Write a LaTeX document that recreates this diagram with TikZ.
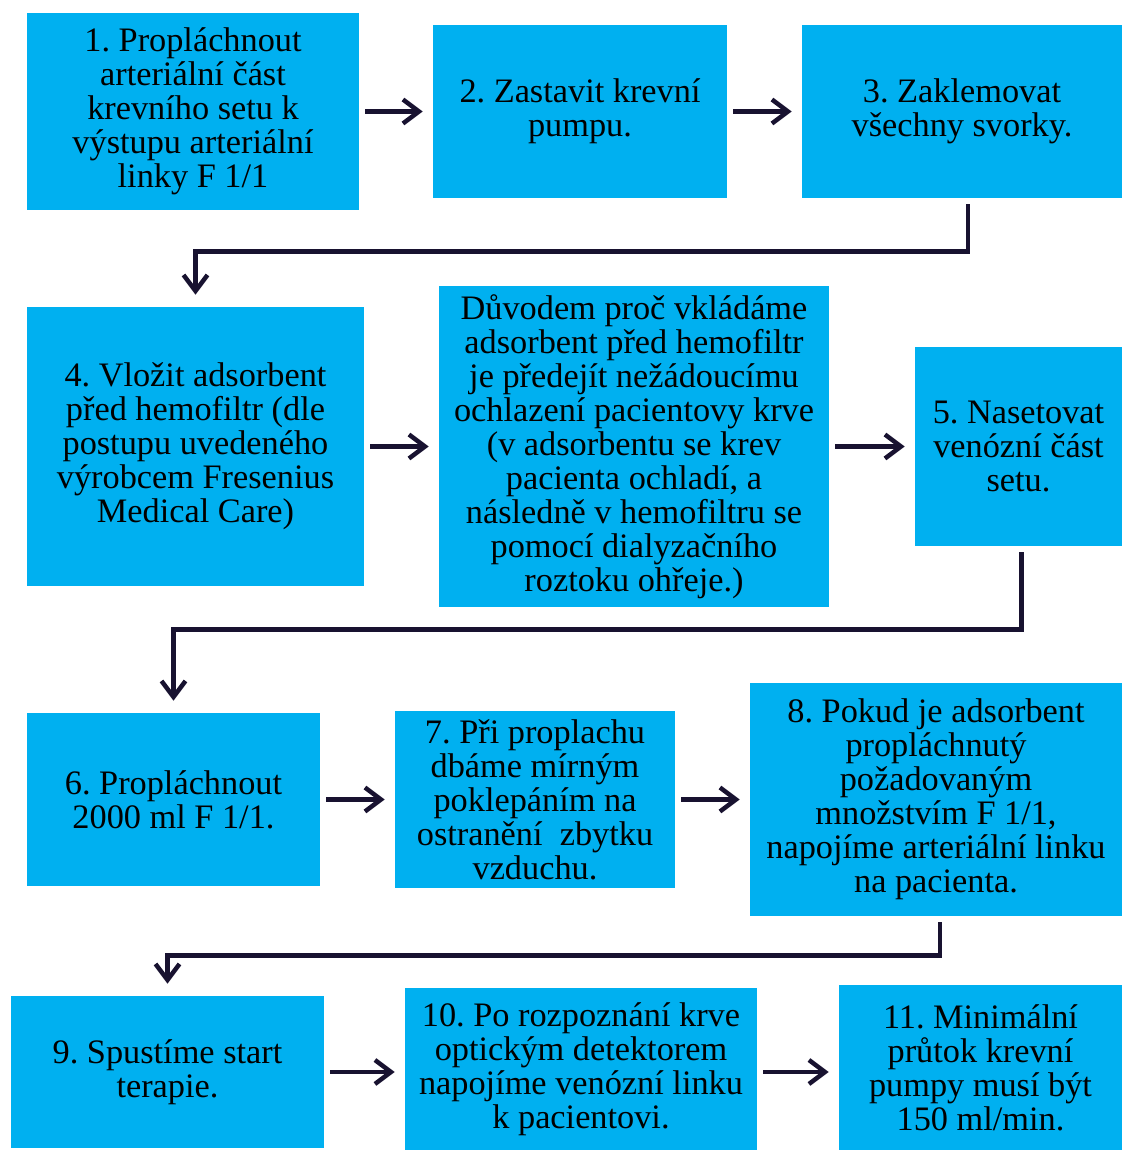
\documentclass[tikz,border=0pt]{standalone}
\usepackage{fontspec}
\setmainfont{Liberation Serif}
\usetikzlibrary{arrows.meta}
\frenchspacing
\definecolor{boxblue}{RGB}{0,176,240}
\definecolor{arrnavy}{RGB}{24,18,48}
\tikzset{
	stepbox/.style={
		fill=boxblue,
		inner sep=2pt,
		align=center,
		font=\fontsize{24.4}{24.2}\selectfont
	},
	harr/.style={arrnavy, line width=3.2pt, shorten <=1.5mm, shorten >=2.5mm,
		-{Straight Barb[length=4mm, width=6mm]}},
	elbow/.style={harr, shorten >=3mm},
}

\begin{document}
\begin{tikzpicture}
	\useasboundingbox (0,0) rectangle (28.05,-28.775);
	
	% ------------------- Row 1 -------------------
	\node[stepbox, minimum width=8.3cm, minimum height=4.925cm] (b1) at (4.825,-2.7875)
		{1. Propláchnout\\arteriální část\\krevního setu k\\výstupu arteriální\\linky F 1/1};
	\node[stepbox, minimum width=7.35cm, minimum height=4.325cm] (b2) at (14.5,-2.7875)
		{2. Zastavit krevní\\pumpu.};
	\node[stepbox, minimum width=8cm, minimum height=4.325cm] (b3) at (24.05,-2.7875)
		{3. Zaklemovat\\všechny svorky.};
	\draw[harr] (b1) -- (b2);
	\draw[harr] (b2) -- (b3);
	
	% ------------------- Row 2 -------------------
	\node[stepbox, minimum width=8.425cm, minimum height=6.975cm] (b4) at (4.8875,-11.1625)
		{4. Vložit adsorbent\\před hemofiltr (dle\\postupu uvedeného\\výrobcem Fresenius\\Medical Care)};
	\node[stepbox, minimum width=9.75cm, minimum height=8.025cm] (duvod) at (15.85,-11.1625)
		{Důvodem proč vkládáme\\adsorbent před hemofiltr\\je předejít nežádoucímu\\ochlazení pacientovy krve\\(v adsorbentu se krev\\pacienta ochladí, a\\následně v hemofiltru se\\pomocí dialyzačního\\roztoku ohřeje.)};
	\node[stepbox, minimum width=5.175cm, minimum height=4.975cm] (b5) at (25.4625,-11.1625)
		{5. Nasetovat\\venózní část\\setu.};
	\draw[elbow] ([xshift=1.5mm]b3.south) -- ++(0,-1.325) -| (b4.north);
	\draw[harr] (b4) -- (duvod);
	\draw[harr] (duvod) -- (b5);
	
	% ------------------- Row 3 -------------------
	\node[stepbox, minimum width=7.325cm, minimum height=4.325cm] (b6) at (4.3375,-19.9875)
		{6. Propláchnout\\2000 ml F 1/1.};
	\node[stepbox, minimum width=7cm, minimum height=4.425cm] (b7) at (13.375,-19.9875)
		{7. Při proplachu\\dbáme mírným\\poklepáním na\\ostranění\ \ zbytku\\vzduchu.};
	\node[stepbox, minimum width=9.3cm, minimum height=5.825cm] (b8) at (23.4,-19.9875)
		{8. Pokud je adsorbent\\propláchnutý\\požadovaným\\množstvím F 1/1,\\napojíme arteriální linku\\na pacienta.};
	\draw[elbow] ([xshift=0.7mm]b5.south) -- ++(0,-2.075) -| (b6.north);
	\draw[harr] (b6) -- (b7);
	\draw[harr] (b7) -- (b8);
	
	% ------------------- Row 4 -------------------
	\node[stepbox, minimum width=7.825cm, minimum height=3.8cm] (b9) at (4.1875,-26.8)
		{9. Spustíme start\\terapie.};
	\node[stepbox, minimum width=8.8cm, minimum height=4.05cm] (b10) at (14.525,-26.725)
		{10. Po rozpoznání krve\\optickým detektorem\\napojíme venózní linku\\k pacientovi.};
	\node[stepbox, minimum width=7.075cm, minimum height=4.125cm] (b11) at (24.5125,-26.6875)
		{11. Minimální\\průtok krevní\\pumpy musí být\\150 ml/min.};
	\draw[elbow] ([xshift=1mm]b8.south) -- ++(0,-0.975) -| (b9.north);
	\draw[harr] (b9.east) -- (b9.east -| b10.west);
	\draw[harr] (b10.east |- b9.east) -- (b9.east -| b11.west);
	
\end{tikzpicture}
\end{document}
